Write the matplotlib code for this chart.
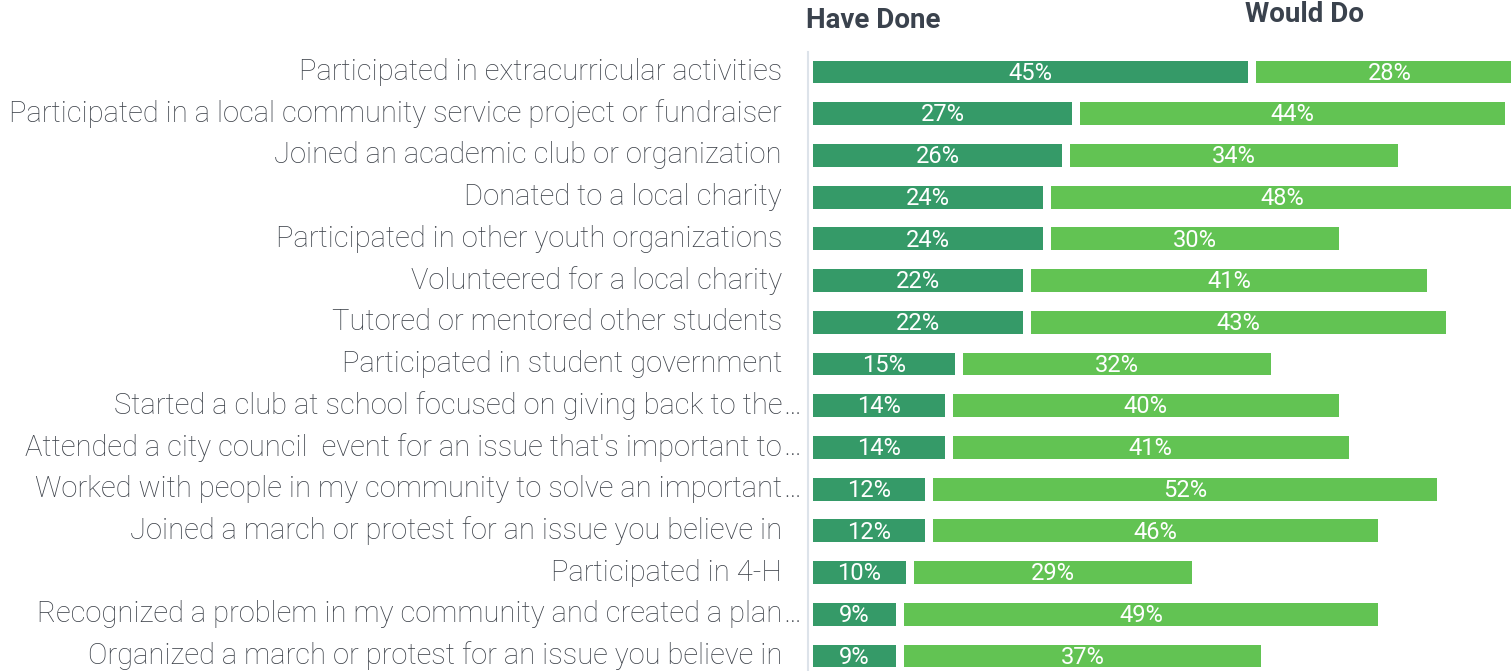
import matplotlib
matplotlib.use("Agg")
import matplotlib.pyplot as plt
from matplotlib.transforms import blended_transform_factory

# ── data ──────────────────────────────────────────────────────────────────────

activities = [
    "Participated in extracurricular activities",
    "Participated in a local community service project or fundraiser",
    "Joined an academic club or organization",
    "Donated to a local charity",
    "Participated in other youth organizations",
    "Volunteered for a local charity",
    "Tutored or mentored other students",
    "Participated in student government",
    "Started a club at school focused on giving back to the…",
    "Attended a city council  event for an issue that's important to…",
    "Worked with people in my community to solve an important…",
    "Joined a march or protest for an issue you believe in",
    "Participated in 4-H",
    "Recognized a problem in my community and created a plan…",
    "Organized a march or protest for an issue you believe in",
]
have_done = [45, 27, 26, 24, 24, 22, 22, 15, 14, 14, 12, 12, 10, 9, 9]
would_do = [28, 44, 34, 48, 30, 41, 43, 32, 40, 41, 52, 46, 29, 49, 37]

DONE_COLOR = "#359a68"
WOULD_COLOR = "#62c353"
LABEL_COLOR = "#3c4149"
HEAD_COLOR = "#3a424d"
FONT = ["Roboto", "DejaVu Sans"]

# ── figure ────────────────────────────────────────────────────────────────────

W, H = 1511, 671
fig = plt.figure(figsize=(W / 100, H / 100), dpi=100)
ax = fig.add_axes([808 / W, 0, 1 - 808 / W, 1 - 52 / H])

shrink = 0.5   # white gap carved out of each segment
gap = 0.8
ys = range(len(activities))
ax.barh(ys, [v - shrink for v in have_done], height=0.55, color=DONE_COLOR)
would_left = [v + gap - shrink for v in have_done]
ax.barh(ys, [w - shrink for w in would_do], left=would_left, height=0.55,
        color=WOULD_COLOR)

for i in ys:
    d, w = have_done[i], would_do[i]
    ax.text((d - shrink) / 2, i + 0.03, f"{d}%", ha="center", va="center",
            color="white", fontsize=17, family=FONT)
    ax.text(would_left[i] + (w - shrink) / 2, i + 0.03, f"{w}%", ha="center",
            va="center", color="white", fontsize=17, family=FONT)

ax.set_xlim(-0.51, 71.4)
ax.set_ylim(14.36, -0.48)
ax.set_xticks([])
ax.set_yticks([])
for s in ["top", "right", "bottom"]:
    ax.spines[s].set_visible(False)
ax.spines["left"].set_color("#dde3ea")
ax.spines["left"].set_linewidth(1.5)

# category labels, ellipsis hangs past the label edge
tr = blended_transform_factory(fig.transFigure, ax.transData)
lab_kw = dict(va="center", transform=tr, color=LABEL_COLOR, fontsize=21,
              fontweight="light", family=FONT)
for i, lab in enumerate(activities):
    if lab.endswith("…"):
        ax.text(782 / W, i, lab[:-1], ha="right", **lab_kw)
        ax.text(783 / W, i, "…", ha="left", **lab_kw)
    else:
        ax.text(782 / W, i, lab, ha="right", **lab_kw)

fig.text(806 / W, 1 - 21 / H, "Have Done", ha="left", va="center",
         color=HEAD_COLOR, fontsize=20, fontweight="bold", family=FONT)
fig.text(1245 / W, 1 - 15 / H, "Would Do", ha="left", va="center",
         color=HEAD_COLOR, fontsize=20, fontweight="bold", family=FONT)

fig.savefig("out.png", dpi=100)
